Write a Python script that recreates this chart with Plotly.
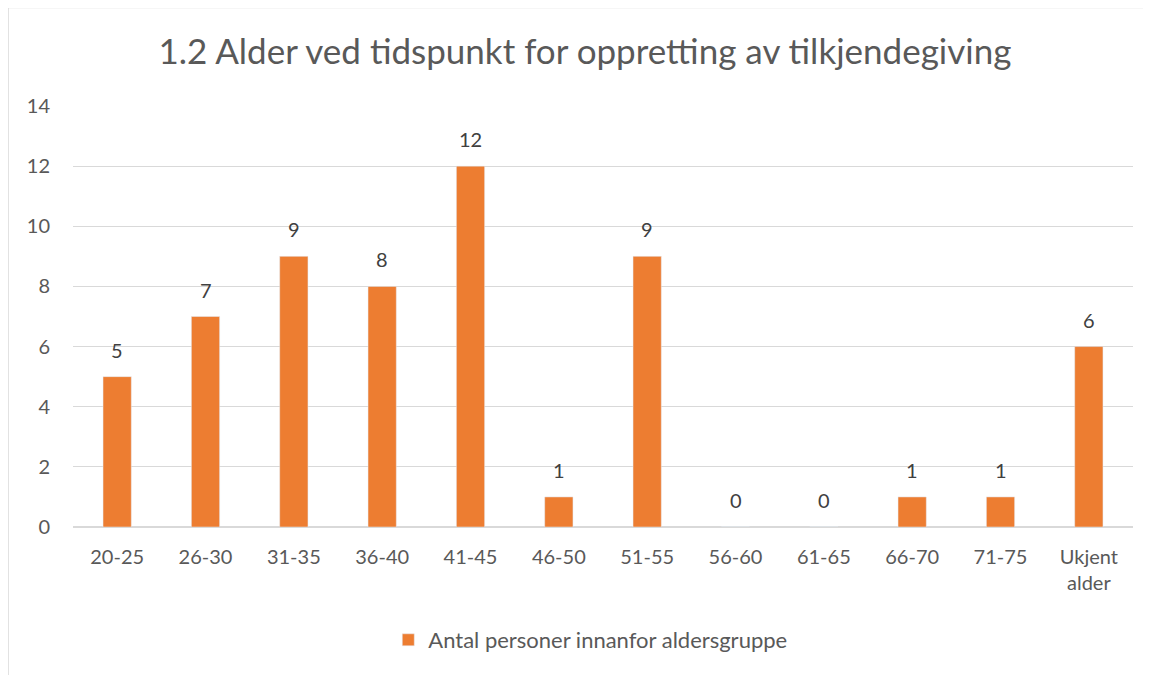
import plotly.graph_objects as go

categories = ["20-25", "26-30", "31-35", "36-40", "41-45", "46-50", "51-55",
              "56-60", "61-65", "66-70", "71-75", "Ukjent<br>alder"]
counts = [5, 7, 9, 8, 12, 1, 9, 0, 0, 1, 1, 6]
series_name = "Antal personer innanfor aldersgruppe"
title = "1.2 Alder ved tidspunkt for oppretting av tilkjendegiving"

font = "Lato, 'Open Sans', sans-serif"
grey = "#595959"

# the page body has an 8px margin, so the figure is drawn 8px in and down
W, H = 1143, 667

fig = go.Figure()
fig.add_trace(go.Bar(
    x=categories,
    y=counts,
    name=series_name,
    marker_color="#ED7D31",
    cliponaxis=False,
))

# value labels sit a fixed distance above each bar
for cat, val in zip(categories, counts):
    fig.add_annotation(
        x=cat, y=val, text=str(val), showarrow=False,
        yanchor="middle", yshift=27,
        font=dict(size=20, color="#404040", family=font),
    )

fig.update_layout(
    width=W,
    height=H,
    margin=dict(l=65, r=W - 1125, t=98, b=H - 519, autoexpand=False),
    paper_bgcolor="white",
    plot_bgcolor="white",
    bargap=0.68,
    showlegend=True,
    font=dict(family=font, color=grey, size=20),
    title=dict(
        text=title,
        x=577 / W, xref="container", xanchor="center",
        y=1 - 44 / H, yref="container", yanchor="middle",
        font=dict(size=35, color=grey, family=font),
    ),
    legend=dict(
        orientation="h",
        x=0.488, xanchor="center",
        y=1 - 632 / H, yref="container", yanchor="middle",
        font=dict(size=22, color=grey, family=font),
    ),
    shapes=[dict(
        type="rect", xref="paper", yref="paper",
        x0=-65 / 1060, x1=1.05, y0=-0.5, y1=(527 - 7.5) / 421,
        line=dict(color="#D9D9D9", width=1.5),
        fillcolor="rgba(0,0,0,0)", layer="below",
    )],
)

fig.update_yaxes(
    range=[0, 14],
    dtick=2,
    showgrid=True,
    gridcolor="#D9D9D9",
    gridwidth=1,
    zeroline=True,
    zerolinecolor="#D9D9D9",
    showline=False,
    ticks="",
    ticklabelstandoff=22,
    tickfont=dict(size=20, color=grey),
)
fig.update_xaxes(
    showline=True,
    linecolor="#D9D9D9",
    ticks="",
    ticklabelstandoff=12,
    tickfont=dict(size=20, color=grey),
)

fig.write_html("out.html")
